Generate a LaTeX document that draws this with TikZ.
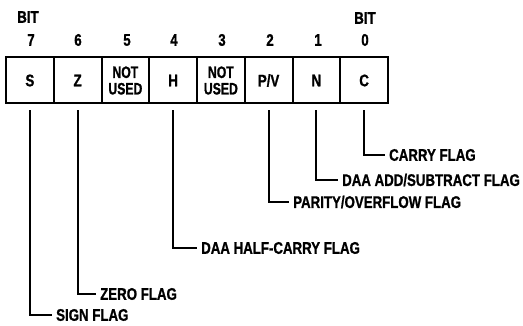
\documentclass[tikz,border=0pt]{standalone}
\usepackage{fontspec}
\newfontfamily\lbl{Liberation Sans Bold}[FakeStretch=0.79,FakeBold=1]
\newfontfamily\lblnarrow{Liberation Sans Bold}[FakeStretch=0.74,FakeBold=1]
\begin{document}
\begin{tikzpicture}[x=1pt,y=-1pt,
  every node/.style={font=\lbl\fontsize{16.8}{17}\selectfont},
  cell/.style={draw,line width=2pt,minimum width=47.75pt,minimum height=46pt,inner sep=0pt,anchor=center},
  unused/.style={cell,align=center,font=\lblnarrow\fontsize{16.5}{16.5}\selectfont},
  bitnum/.style={inner sep=0pt,anchor=center},
  flaglabel/.style={anchor=west,inner xsep=4pt,inner ysep=0pt},
  conn/.style={line width=2pt,shorten <=6pt}]
\useasboundingbox (0,0) rectangle (523,326);
% register cells
\node[cell] (c7) at (29.875,80.5) {S};
\node[cell] (c6) at (77.625,80.5) {Z};
\node[unused] (c5) at (125.375,80.5) {NOT\\USED};
\node[cell] (c4) at (173.125,80.5) {H};
\node[unused] (c3) at (220.875,80.5) {NOT\\USED};
\node[cell] (c2) at (268.625,80.5) {P/V};
\node[cell] (c1) at (316.375,80.5) {N};
\node[cell] (c0) at (364.125,80.5) {C};
% bit numbers
\node[bitnum] (b7) at (31,40) {7};
\node[bitnum] (b6) at (78,40) {6};
\node[bitnum] (b5) at (127,40) {5};
\node[bitnum] (b4) at (174,40) {4};
\node[bitnum] (b3) at (222,40) {3};
\node[bitnum] (b2) at (270,40) {2};
\node[bitnum] (b1) at (318,40) {1};
\node[bitnum] (b0) at (365,40) {0};
\node[bitnum] (bitL) at (28,17) {BIT};
\node[bitnum] (bitR) at (365,18) {BIT};
% flag labels
\node[flaglabel] (sign) at (52,315) {SIGN FLAG};
\node[flaglabel] (zero) at (96,294) {ZERO FLAG};
\node[flaglabel] (half) at (197,248) {DAA HALF-CARRY FLAG};
\node[flaglabel] (parity) at (289,202) {PARITY/OVERFLOW FLAG};
\node[flaglabel] (addsub) at (338,180) {DAA ADD/SUBTRACT FLAG};
\node[flaglabel] (carry) at (385,155) {CARRY FLAG};
% connectors
\draw[conn] (c7.south) |- (sign.west);
\draw[conn] (c6.south) |- (zero.west);
\draw[conn] (c4.south) |- (half.west);
\draw[conn] (c2.south) |- (parity.west);
\draw[conn] (c1.south) |- (addsub.west);
\draw[conn] (c0.south) |- (carry.west);
\end{tikzpicture}
\end{document}
